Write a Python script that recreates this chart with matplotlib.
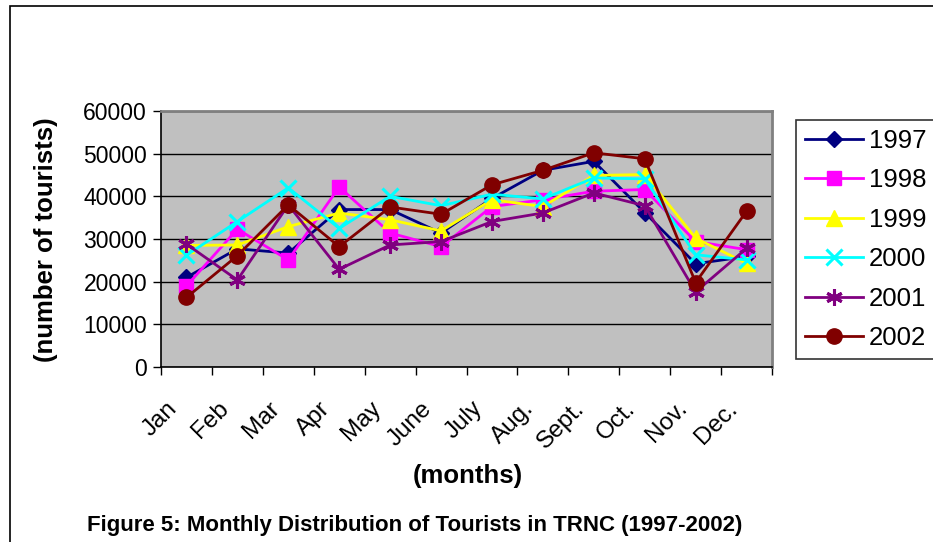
import matplotlib
matplotlib.use("Agg")
import matplotlib.pyplot as plt
from matplotlib.patches import Rectangle
from matplotlib.transforms import ScaledTranslation

months = ["Jan", "Feb", "Mar", "Apr", "May", "June", "July", "Aug.", "Sept.", "Oct.", "Nov.", "Dec."]
y1997 = [21000, 27700, 26700, 36900, 36900, 31400, 39500, 46100, 48200, 36200, 24200, 25900]
y1998 = [19000, 32300, 25100, 42200, 31400, 28200, 37600, 39200, 41200, 41600, 29400, 27500]
y1999 = [28500, 28600, 32900, 36100, 34500, 31900, 39200, 37600, 44900, 45100, 30200, 24300]
y2000 = [26200, 34100, 42000, 32500, 40000, 37800, 40500, 39400, 44300, 44100, 26300, 25100]
y2001 = [28800, 20400, 38000, 22900, 28600, 29400, 34100, 36100, 40800, 37800, 17600, 27800]
y2002 = [16300, 26100, 38000, 28200, 37500, 35800, 42700, 46100, 50200, 48800, 19800, 36500]
years = ["1997", "1998", "1999", "2000", "2001", "2002"]
yticks = [0, 10000, 20000, 30000, 40000, 50000, 60000]

series = [y1997, y1998, y1999, y2000, y2001, y2002]
colors = ["#000080", "#FF00FF", "#FFFF00", "#00FFFF", "#800080", "#800000"]
markers = ["D", "s", "^", "x", (6, 2, 0), "o"]
msizes = [8.5, 10, 11, 11, 12, 11]
mews = [1, 1, 1, 2.2, 2.2, 1]

plt.rcParams['font.family'] = ['Liberation Sans', 'DejaVu Sans']

W, H = 933, 542
fig = plt.figure(figsize=(W / 100, H / 100), dpi=100)
fig.patch.set_facecolor("white")

# outer frame
fig.patches.append(Rectangle((10 / W, -0.1), 1.2, 1 - 6 / H + 0.1, transform=fig.transFigure,
                             fill=False, edgecolor="black", linewidth=1.2))

L, R, T, B = 161, 772, 111, 367
ax = fig.add_axes([L / W, 1 - B / H, (R - L) / W, (B - T) / H])
ax.set_facecolor("#C0C0C0")

x = list(range(len(months)))
handles = []
for s, c, m, ms, mew, lab in zip(series, colors, markers, msizes, mews, years):
    h, = ax.plot(x, s, color=c, marker=m, markersize=ms, markeredgewidth=mew,
                 markerfacecolor=c, markeredgecolor=c, linewidth=2, label=lab,
                 clip_on=False, zorder=3)
    handles.append(h)

ax.set_xlim(-0.5, len(months) - 0.5)
ax.set_ylim(0, 60000)
ax.set_yticks(yticks)
ax.set_yticklabels([str(v) for v in yticks], fontsize=16.5)
ax.yaxis.grid(True, color="black", linewidth=1)
ax.set_axisbelow(True)

ax.set_xticks([i - 0.5 for i in range(len(months) + 1)])
ax.set_xticklabels([])
ax.set_xticks(x, minor=True)
ax.set_xticklabels(months, minor=True, fontsize=17.5, rotation=45, ha="right",
                   rotation_mode="anchor")
ax.tick_params(axis="x", which="minor", length=0, pad=14)
ax.tick_params(axis="x", which="major", length=6, direction="out", width=1)
ax.tick_params(axis="y", length=6, direction="out", width=1, pad=4)

off = ScaledTranslation(-20 / 100, -11 / 100, fig.dpi_scale_trans)
for t in ax.get_xticklabels(minor=True):
    t.set_transform(t.get_transform() + off)

for sp in ["top", "right"]:
    ax.spines[sp].set_color("#808080")
    ax.spines[sp].set_linewidth(2)
ax.spines["left"].set_color("black")
ax.spines["bottom"].set_color("black")
ax.spines["left"].set_linewidth(1.2)
ax.spines["bottom"].set_linewidth(1.2)

fig.text(46 / W, 1 - 240 / H, "(number of tourists)", rotation=90, fontsize=18.5,
         fontweight="bold", ha="center", va="center")
fig.text(468 / W, 1 - 476 / H, "(months)", fontsize=18.5, fontweight="bold",
         ha="center", va="center")
fig.text(415 / W, 1 - 525 / H, "Figure 5: Monthly Distribution of Tourists in TRNC (1997-2002)",
         fontsize=16, fontweight="bold", ha="center", va="center")

leg = fig.legend(handles=handles, loc="upper left", bbox_to_anchor=(796 / W, 1 - 120 / H),
                 fontsize=18.5, frameon=True, fancybox=False, edgecolor="black",
                 handlelength=2.25, borderpad=0.35, labelspacing=0.6, handletextpad=0.23,
                 borderaxespad=0)
leg.get_frame().set_linewidth(1.2)

fig.savefig("out.png", dpi=100)
